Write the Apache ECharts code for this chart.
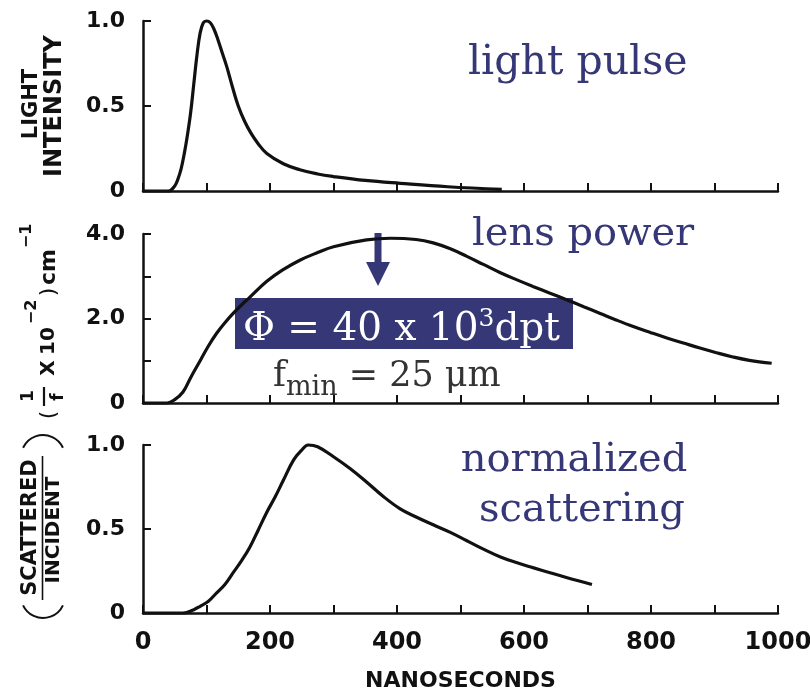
<!DOCTYPE html>
<html><head><meta charset="utf-8">
<script src="https://cdn.jsdelivr.net/npm/echarts@6/dist/echarts.min.js"></script>
<style>html,body{margin:0;padding:0;background:#fff}#c{width:810px;height:692px}</style>
</head><body><div id="c"></div>
<script>
// ---- data (nanoseconds, value) ----
const pulseNs  = [0, 40, 50, 55, 60, 65, 70, 75, 80, 85, 90, 95, 100, 106, 112, 118, 125, 132, 141, 150, 160, 170, 181, 195, 221, 247, 275, 300, 350, 405, 480, 565];
const pulseVal = [0, 0.0, 0.03, 0.07, 0.13, 0.22, 0.33, 0.46, 0.63, 0.8, 0.93, 0.99, 1.0, 0.99, 0.95, 0.89, 0.81, 0.73, 0.61, 0.5, 0.41, 0.34, 0.28, 0.22, 0.16, 0.125, 0.1, 0.085, 0.062, 0.045, 0.025, 0.01];

const lensNs  = [0, 38, 50, 63, 75, 90, 103, 116, 129, 142, 155, 168, 195, 220, 247, 275, 300, 352, 390, 430, 457, 484, 510, 536, 562, 588, 614, 641, 668, 694, 720, 746, 772, 799, 825, 851, 877, 903, 929, 955, 990];
const lensVal = [0, 0, 0.08, 0.26, 0.6, 1.0, 1.35, 1.65, 1.9, 2.12, 2.32, 2.5, 2.88, 3.15, 3.38, 3.56, 3.7, 3.86, 3.9, 3.87, 3.79, 3.65, 3.47, 3.28, 3.09, 2.92, 2.76, 2.6, 2.44, 2.28, 2.12, 1.96, 1.81, 1.67, 1.54, 1.42, 1.3, 1.19, 1.09, 1.01, 0.94];

const scatNs  = [0, 63, 80, 90, 103, 116, 129, 142, 155, 168, 181, 195, 208, 221, 237, 250, 260, 275, 300, 326, 352, 378, 405, 431, 457, 484, 510, 536, 562, 588, 614, 641, 668, 707];
const scatVal = [0, 0, 0.02, 0.04, 0.07, 0.12, 0.17, 0.24, 0.31, 0.39, 0.49, 0.6, 0.69, 0.79, 0.91, 0.97, 1.0, 0.99, 0.93, 0.86, 0.78, 0.695, 0.62, 0.57, 0.525, 0.48, 0.43, 0.38, 0.335, 0.3, 0.27, 0.24, 0.21, 0.17];

// ---- tick labels ----
const xTickLabels = {0: '0', 200: '200', 400: '400', 600: '600', 800: '800', 1000: '1000'};
const unitYTickLabels = {0: '0', 0.5: '0.5', 1: '1.0'};
const lensYTickLabels = {0: '0', 2: '2.0', 4: '4.0'};

// ---- texts ----
const panelTitles = ['light pulse', 'lens power', 'normalized', 'scattering'];
const xAxisName = 'NANOSECONDS';

const NAVY = '#353776';
const INK = '#111';
const SANS = 'DejaVu Sans';
const SERIF = 'DejaVu Serif';

function zip(a, b) { return a.map((v, i) => [v, b[i]]); }

const grids = [
  {left: 143, top: 21, width: 635, height: 170},
  {left: 143, top: 234, width: 635, height: 169},
  {left: 143, top: 445, width: 635, height: 168}
];

function xAxis(i) {
  return {
    gridIndex: i, type: 'value', min: 0, max: 1000, interval: 100,
    axisLine: {show: true, onZero: false, lineStyle: {color: INK, width: 2.5}},
    axisTick: {show: true, inside: true, length: 8, lineStyle: {color: INK, width: 2}},
    axisLabel: {
      show: i === 2, margin: 18,
      formatter: v => (xTickLabels[v] !== undefined ? xTickLabels[v] : ''),
      fontFamily: SANS, fontWeight: 'bold', fontSize: 24, color: INK
    },
    splitLine: {show: false},
    name: i === 2 ? xAxisName : '', nameLocation: 'middle', nameGap: 57,
    nameTextStyle: {fontFamily: SANS, fontWeight: 'bold', fontSize: 22, color: INK}
  };
}
function yAxis(i, max, interval, labels) {
  return {
    gridIndex: i, type: 'value', min: 0, max: max, interval: interval,
    axisLine: {show: true, onZero: false, lineStyle: {color: INK, width: 2.5}},
    axisTick: {show: true, inside: true, length: 8, lineStyle: {color: INK, width: 2}},
    axisLabel: {
      margin: 18,
      formatter: v => (labels[v] !== undefined ? labels[v] : ''),
      fontFamily: SANS, fontWeight: 'bold', fontSize: 22, color: INK
    },
    splitLine: {show: false}
  };
}
function line(i, ns, val) {
  return {
    type: 'line', xAxisIndex: i, yAxisIndex: i, data: zip(ns, val),
    smooth: 0.4, showSymbol: false, clip: false, silent: true,
    lineStyle: {color: INK, width: 3.2}
  };
}

const rot = Math.PI / 2;
function vtext(x, y, text, size, weight) {
  return {
    type: 'text', x: x, y: y, rotation: rot,
    style: {text: text, fontFamily: SANS, fontWeight: weight || 'bold', fontSize: size, fill: INK, align: 'center', verticalAlign: 'middle'}
  };
}

const graphics = [
  // panel titles
  {type: 'text', x: 468, y: 63, style: {text: panelTitles[0], fontFamily: SERIF, fontSize: 41, fill: NAVY, align: 'left', verticalAlign: 'middle'}},
  {type: 'text', x: 472, y: 235, style: {text: panelTitles[1], fontFamily: SERIF, fontSize: 40, fill: NAVY, align: 'left', verticalAlign: 'middle'}},
  {type: 'text', x: 574, y: 461, style: {text: panelTitles[2], fontFamily: SERIF, fontSize: 40, fill: NAVY, align: 'center', verticalAlign: 'middle'}},
  {type: 'text', x: 582, y: 511, style: {text: panelTitles[3], fontFamily: SERIF, fontSize: 40, fill: NAVY, align: 'center', verticalAlign: 'middle'}},
  // arrow
  {type: 'polygon', shape: {points: [[374.5, 233], [381.5, 233], [381.5, 262], [390, 262], [378, 286], [366, 262], [374.5, 262]]}, style: {fill: NAVY}},
  // annotation box
  {type: 'rect', shape: {x: 235, y: 298, width: 338, height: 51}, style: {fill: NAVY}},
  {type: 'text', x: 243, y: 330, style: {
    text: '{a|\u03A6 = 40 x 10}{s|3}{a|dpt}', align: 'left', verticalAlign: 'middle',
    rich: {
      a: {fontFamily: SERIF, fontSize: 39, lineHeight: 46, fill: '#fff', color: '#fff'},
      s: {fontFamily: SERIF, fontSize: 25, lineHeight: 26, verticalAlign: 'top', fill: '#fff', color: '#fff'}
    }
  }},
  {type: 'text', x: 273, y: 376.5, style: {
    text: '{f|f}{s|min}{f| = 25 \u03BCm}', align: 'left', verticalAlign: 'middle',
    rich: {
      f: {fontFamily: SERIF, fontSize: 35, lineHeight: 50, fill: '#333', color: '#333'},
      s: {fontFamily: SERIF, fontSize: 27, lineHeight: 24, verticalAlign: 'bottom', fill: '#333', color: '#333'}
    }
  }},
  // top y-axis name
  vtext(32, 104, 'LIGHT', 21),
  vtext(55, 106, 'INTENSITY', 24),
  // middle y-axis name: ( 1/f x 10^-2 ) cm^-1
  vtext(49, 415, '(', 22, 'normal'),
  vtext(29, 396, '1', 17),
  {type: 'line', shape: {x1: 44, y1: 387, x2: 44, y2: 406}, style: {stroke: INK, lineWidth: 2.2}},
  vtext(59, 397, 'f', 17),
  vtext(49, 368, 'X', 20),
  vtext(49, 341, '10', 20),
  vtext(32, 312, '\u22122', 16),
  vtext(49, 292, ')', 22, 'normal'),
  vtext(49, 267, 'cm', 22),
  vtext(27, 236, '\u22121', 16),
  // bottom y-axis name: (SCATTERED / INCIDENT)
  vtext(30.5, 527.5, 'SCATTERED', 21),
  {type: 'line', shape: {x1: 42.5, y1: 456, x2: 42.5, y2: 600}, style: {stroke: INK, lineWidth: 1.6}},
  vtext(53.5, 530, 'INCIDENT', 20),
  {type: 'arc', shape: {cx: 43, cy: 457, r: 22, startAngle: 205 * Math.PI / 180, endAngle: 335 * Math.PI / 180, clockwise: true}, style: {stroke: INK, lineWidth: 2, fill: null}},
  {type: 'arc', shape: {cx: 43, cy: 596, r: 22, startAngle: 25 * Math.PI / 180, endAngle: 155 * Math.PI / 180, clockwise: true}, style: {stroke: INK, lineWidth: 2, fill: null}}
];

const chart = echarts.init(document.getElementById('c'), null, {renderer: 'canvas'});
chart.setOption({
  animation: false,
  backgroundColor: '#fff',
  grid: grids.map(g => Object.assign({outerBoundsMode: 'none', containLabel: false}, g)),
  xAxis: [xAxis(0), xAxis(1), xAxis(2)],
  yAxis: [yAxis(0, 1, 0.5, unitYTickLabels), yAxis(1, 4, 1, lensYTickLabels), yAxis(2, 1, 0.5, unitYTickLabels)],
  series: [line(0, pulseNs, pulseVal), line(1, lensNs, lensVal), line(2, scatNs, scatVal)],
  graphic: graphics
});
</script></body></html>
